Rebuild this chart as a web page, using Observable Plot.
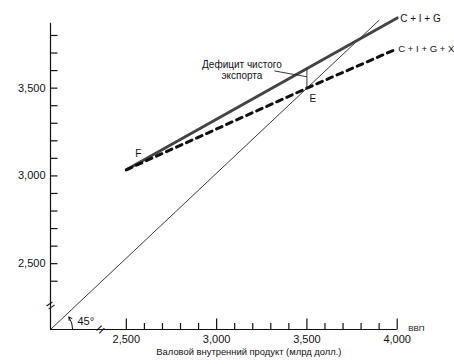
<!DOCTYPE html>
<html><head><meta charset="utf-8">
<script src="https://cdn.jsdelivr.net/npm/d3@7"></script>
<script src="https://cdn.jsdelivr.net/npm/@observablehq/plot@0.6"></script>
<style>body{margin:0;background:#fff}</style>
</head><body><div id="chart"></div>
<script>
// axis origin (broken axes)
const xOrigin = 2080;
const yOrigin = 2125;
const xMax = 4000, yMax = 3870;
// tick values
const xMajorTicks = [2500, 3000, 3500, 4000];
const xMinorTicks = [2600, 2700, 2800, 2900, 3100, 3200, 3300, 3400, 3600, 3700, 3800, 3900];
const yTicks = [2400, 2500, 2600, 2700, 2800, 2900, 3000, 3100, 3200, 3300, 3400, 3500, 3600, 3700, 3800];
const yTickLabels = [2500, 3000, 3500];
// series
const cigGDP = [2500, 4000];
const cigValue = [3035, 3900];
const cigxGDP = [2500, 3500, 4000];
const cigxValue = [3035, 3500, 3725];
const line45GDP = [xOrigin, 3500, 3900];
const line45Value = [yOrigin, 3500, 3887];
// labels
const seriesLabels = ["C + I + G", "C + I + G + X"];
const deficitLabel = "Дефицит чистого\nэкспорта";
const deficitAnchor = {x: 3140, y: 3605};
const deficitLeader = {x1: 3320, y1: 3598, x2: 3500, y2: 3565};
const xTitle = "Валовой внутренний продукт (млрд долл.)";
const xUnitLabel = "ВВП";
const pointF = {x: 2500, y: 3035, label: "F"};
const pointE = {x: 3500, y: 3500, label: "E"};
const breakX = 2357, breakY = 2262;
const angleArc = {x1: 2203, y1: 2125, x2: 2182, y2: 2196};

const cig = cigGDP.map((x, i) => ({x, y: cigValue[i]}));
const cigx = cigxGDP.map((x, i) => ({x, y: cigxValue[i]}));
const l45 = line45GDP.map((x, i) => ({x, y: line45Value[i]}));
const cigAtE = cigValue[0] + (cigValue[1] - cigValue[0]) * (pointE.x - cigGDP[0]) / (cigGDP[1] - cigGDP[0]);

const W = 454, H = 364, mL = 50, mR = 57.3, mT = 22.7, mB = 35;
// pixel -> data unit conversion for tick lengths
const kx = (W - mL - mR) / (xMax - xOrigin);
const ky = (H - mT - mB) / (yMax - yOrigin);
const fmt = d3.format(",");
const yTickData = yTicks.map(v => ({v, a: xOrigin, b: xOrigin + 7 / kx}));
const xMajorData = xMajorTicks.map(v => ({v, a: yOrigin, b: yOrigin + 11 / ky}));
const xMinorData = xMinorTicks.map(v => ({v, a: yOrigin, b: yOrigin + 6.5 / ky}));

const chart = Plot.plot({
  width: W, height: H,
  marginLeft: mL, marginRight: mR, marginTop: mT, marginBottom: mB,
  x: {domain: [xOrigin, xMax], axis: null},
  y: {domain: [yOrigin, yMax], axis: null},
  style: {fontFamily: "Liberation Sans, Arial, sans-serif", fontSize: "11px", background: "#fff", color: "#111"},
  marks: [
    // axes lines
    Plot.ruleX([xOrigin], {stroke: "#111", strokeWidth: 1.2}),
    Plot.ruleY([yOrigin], {stroke: "#111", strokeWidth: 1.2}),
    // ticks (inward)
    Plot.link(yTickData, {x1: "a", x2: "b", y1: "v", y2: "v", stroke: "#111", strokeWidth: 1.2}),
    Plot.link(xMajorData, {x1: "v", x2: "v", y1: "a", y2: "b", stroke: "#111", strokeWidth: 1.2}),
    Plot.link(xMinorData, {x1: "v", x2: "v", y1: "a", y2: "b", stroke: "#111", strokeWidth: 1.2}),
    // tick labels
    Plot.text(yTickLabels, {x: xOrigin, y: d => d, text: d => fmt(d), textAnchor: "end", dx: -5, fontSize: 11}),
    Plot.text(xMajorTicks, {x: d => d, y: yOrigin, text: d => fmt(d), dy: 10, fontSize: 11}),
    Plot.text([xUnitLabel], {x: xMax, y: yOrigin, text: d => d, textAnchor: "start", dx: 11, dy: -1, fontSize: 8}),
    Plot.text([xTitle], {frameAnchor: "bottom", text: d => d, dx: 25, dy: 25, fontSize: 9.4}),
    // axis breaks
    Plot.text([0], {x: xOrigin, y: breakY, text: () => "=", fontSize: 15, rotate: -35}),
    Plot.text([0], {x: breakX, y: yOrigin, text: () => "=", fontSize: 15, rotate: -45}),
    // 45 degree line
    Plot.line(l45, {x: "x", y: "y", stroke: "#222", strokeWidth: 0.9}),
    Plot.arrow([angleArc], {x1: "x1", y1: "y1", x2: "x2", y2: "y2", bend: -17, headLength: 5, stroke: "#111", strokeWidth: 1}),
    Plot.text(["45°"], {x: xOrigin, y: yOrigin, text: d => d, textAnchor: "start", dx: 27, dy: -8, fontSize: 11}),
    // aggregate expenditure lines
    Plot.line(cig, {x: "x", y: "y", stroke: "#444", strokeWidth: 3}),
    Plot.line(cigx, {x: "x", y: "y", stroke: "#111", strokeWidth: 3, strokeDasharray: "6,5"}),
    Plot.text([seriesLabels[0]], {x: cigGDP[1], y: cigValue[1], text: d => d, textAnchor: "start", dx: 3, dy: 1, fontSize: 10}),
    Plot.text([seriesLabels[1]], {x: cigxGDP[2], y: cigxValue[2], text: d => d, textAnchor: "start", dx: 1, dy: 0, fontSize: 9.6}),
    // deficit bracket
    Plot.link([{x: pointE.x, y1: cigAtE, y2: pointE.y}], {x1: "x", x2: "x", y1: "y1", y2: "y2", stroke: "#222", strokeWidth: 0.9}),
    Plot.link([deficitLeader], {x1: "x1", y1: "y1", x2: "x2", y2: "y2", stroke: "#222", strokeWidth: 0.9}),
    Plot.text([deficitLabel], {x: deficitAnchor.x, y: deficitAnchor.y, text: d => d, lineHeight: 1.15, fontSize: 10}),
    // point labels
    Plot.text([pointF], {x: "x", y: "y", text: "label", dx: 12, dy: -16, fontSize: 10}),
    Plot.text([pointE], {x: "x", y: "y", text: "label", dx: 6, dy: 11, fontSize: 10})
  ]
});
document.getElementById("chart").appendChild(chart);
</script>
</body></html>
